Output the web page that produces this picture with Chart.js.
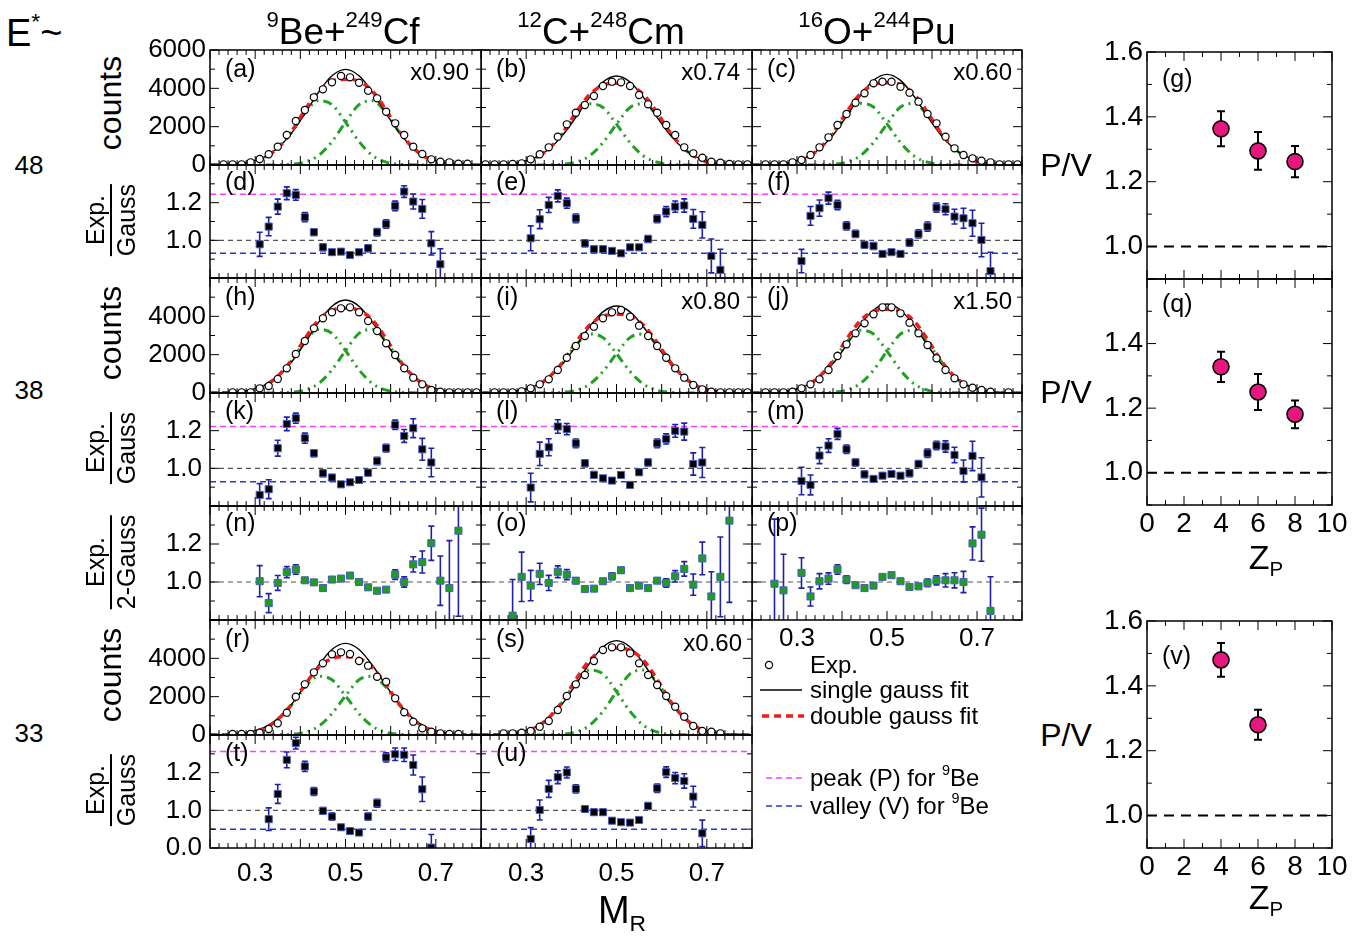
<!DOCTYPE html>
<html>
<head>
<meta charset="utf-8">
<script src="https://cdn.jsdelivr.net/npm/chart.js@4.4.1/dist/chart.umd.min.js"></script>
<style>
  body { margin: 0; width: 1370px; height: 938px; position: relative; overflow: hidden; background: #fff;
         font-family: "Liberation Sans", Arial, sans-serif; color: #000; }
  canvas { position: absolute; }
  .t { position: absolute; white-space: nowrap; line-height: 1; }
  .c { transform: translate(-50%, -50%); }
  .r { transform: translateY(-50%); }
  .rot { transform: translate(-50%, -50%) rotate(-90deg); }
  .sp { font-size: 0.6em; position: relative; top: -0.75em; }
  .sb { font-size: 0.6em; position: relative; top: 0.35em; }
  .frac { text-align: center; }
  .frac .den { border-top: 2px solid #000; padding-top: 2px; }
  .frac .num { padding-bottom: 2px; }
</style>
</head>
<body>
<script>
// mass ratio bins of the measured points, and sampling of the fitted curves
const gridM = [0.21, 0.23, 0.25, 0.27, 0.29, 0.31, 0.33, 0.35, 0.37, 0.39, 0.41, 0.43, 0.45, 0.47, 0.49,
               0.51, 0.53, 0.55, 0.57, 0.59, 0.61, 0.63, 0.65, 0.67, 0.69, 0.71, 0.73, 0.75, 0.77, 0.79];
const curveM = [0.20, 0.23, 0.26, 0.29, 0.32, 0.35, 0.38, 0.41, 0.44, 0.47, 0.50,
                0.53, 0.56, 0.59, 0.62, 0.65, 0.68, 0.71, 0.74, 0.77, 0.80];

// (a) 9Be+249Cf, E*~48
const expA = [null, 35, 35, 35, 139, 313, 557, 957, 1565, 2296, 2869, 3530, 3948, 4313, 4643, 4574, 4295, 3878, 3478, 2782, 2174, 1565, 957, 574, 296, 174, 139, 70, 70, null];
const singleA = [5, 20, 60, 170, 414, 883, 1647, 2675, 3782, 4656, 4990, 4656, 3782, 2675, 1647, 883, 414, 170, 60, 20, 5];
const doubleA = [0, 10, 30, 112, 372, 887, 1730, 2861, 3843, 4368, 4470, 4368, 3843, 2861, 1730, 887, 372, 112, 30, 10, 0];
const lowA = [0, 10, 30, 112, 372, 880, 1693, 2709, 3352, 3149, 2235, 1219, 491, 152, 37, 7, 0, 0, 0, 0, 0];
const highA = [0, 0, 0, 0, 0, 7, 37, 152, 491, 1219, 2235, 3149, 3352, 2709, 1693, 880, 372, 112, 30, 10, 0];
// (b) 12C+248Cm
const expB = [35, 35, 35, 52, 87, 296, 557, 922, 1478, 2122, 2730, 3130, 3600, 4122, 4348, 4313, 4122, 3652, 3165, 2730, 2087, 1565, 922, 609, 383, 174, 122, 52, 35, 35];
const singleB = [5, 19, 56, 158, 385, 822, 1532, 2489, 3519, 4332, 4643, 4332, 3519, 2489, 1532, 822, 385, 158, 56, 19, 5];
const doubleB = [0, 10, 29, 106, 355, 845, 1649, 2727, 3663, 4163, 4260, 4163, 3663, 2727, 1649, 845, 355, 106, 29, 10, 0];
const lowB = [0, 10, 29, 106, 355, 839, 1614, 2582, 3195, 3001, 2130, 1162, 468, 145, 35, 6, 0, 0, 0, 0, 0];
const highB = [0, 0, 0, 0, 0, 6, 35, 145, 468, 1162, 2130, 3001, 3195, 2582, 1614, 839, 355, 106, 29, 10, 0];
// (c) 16O+244Pu
const expC = [null, 35, 35, 35, 139, 261, 522, 922, 1443, 2087, 2661, 3252, 3739, 4261, 4348, 4348, 4087, 3774, 3304, 2661, 2174, 1478, 870, 522, 348, 226, 139, 35, 35, 35];
const singleC = [5, 19, 57, 161, 393, 837, 1561, 2535, 3585, 4413, 4730, 4413, 3585, 2535, 1561, 837, 393, 161, 57, 19, 5];
const doubleC = [0, 10, 29, 107, 358, 852, 1661, 2746, 3689, 4193, 4290, 4193, 3689, 2746, 1661, 852, 358, 107, 29, 10, 0];
const lowC = [0, 10, 29, 107, 358, 845, 1625, 2600, 3218, 3023, 2145, 1170, 471, 146, 36, 7, 0, 0, 0, 0, 0];
const highC = [0, 0, 0, 0, 0, 7, 36, 146, 471, 1170, 2145, 3023, 3218, 2600, 1625, 845, 358, 107, 29, 10, 0];
// (h) E*~38
const expH = [null, null, 35, 35, 35, 243, 365, 730, 1287, 2035, 2713, 3374, 3896, 4209, 4417, 4470, 4209, 3756, 3235, 2591, 1983, 1287, 800, 452, 157, 70, 35, 35, 35, 35];
const singleH = [5, 19, 58, 165, 403, 859, 1601, 2601, 3678, 4527, 4852, 4527, 3678, 2601, 1601, 859, 403, 165, 58, 19, 5];
const doubleH = [0, 10, 30, 110, 368, 877, 1710, 2827, 3798, 4316, 4417, 4316, 3798, 2827, 1710, 877, 368, 110, 30, 10, 0];
const lowH = [0, 10, 30, 110, 368, 870, 1673, 2677, 3313, 3112, 2208, 1205, 485, 151, 37, 7, 0, 0, 0, 0, 0];
const highH = [0, 0, 0, 0, 0, 7, 37, 151, 485, 1205, 2208, 3112, 3313, 2677, 1673, 870, 368, 110, 30, 10, 0];
// (i)
const expI = [null, 35, 35, 35, 87, 243, 452, 713, 1200, 1843, 2452, 2974, 3461, 3896, 4209, 4330, 3983, 3513, 2974, 2452, 1843, 1287, 800, 417, 191, 70, 35, 35, 35, 35];
const singleI = [5, 18, 54, 154, 377, 803, 1498, 2433, 3441, 4235, 4539, 4235, 3441, 2433, 1498, 803, 377, 154, 54, 18, 5];
const doubleI = [0, 9, 28, 103, 342, 815, 1589, 2627, 3529, 4011, 4104, 4011, 3529, 2627, 1589, 815, 342, 103, 28, 9, 0];
const lowI = [0, 9, 28, 103, 342, 808, 1555, 2487, 3078, 2891, 2052, 1119, 451, 140, 34, 6, 0, 0, 0, 0, 0];
const highI = [0, 0, 0, 0, 0, 6, 34, 140, 451, 1119, 2052, 2891, 3078, 2487, 1555, 808, 342, 103, 28, 9, 0];
// (j)
const expJ = [null, 35, 35, 35, 70, 243, 452, 713, 1200, 1930, 2539, 3113, 3635, 4104, 4470, 4470, 4156, 3670, 3113, 2504, 1809, 1200, 765, 452, 278, 157, 70, null, 35, null];
const singleJ = [5, 19, 56, 158, 385, 822, 1532, 2489, 3519, 4332, 4643, 4332, 3519, 2489, 1532, 822, 385, 158, 56, 19, 5];
const doubleJ = [0, 10, 30, 109, 364, 866, 1690, 2794, 3753, 4266, 4365, 4266, 3753, 2794, 1690, 866, 364, 109, 30, 10, 0];
const lowJ = [0, 10, 30, 109, 364, 860, 1654, 2646, 3274, 3076, 2183, 1191, 480, 149, 36, 7, 0, 0, 0, 0, 0];
const highJ = [0, 0, 0, 0, 0, 7, 36, 149, 480, 1191, 2183, 3076, 3274, 2646, 1654, 860, 364, 109, 30, 10, 0];
// (r) E*~33
const expR = [null, null, 52, 52, 52, 122, 313, 609, 1165, 2000, 2643, 3270, 3739, 4209, 4313, 4226, 3861, 3617, 3043, 2783, 1913, 1183, 696, 348, 174, 87, 52, 52, null, null];
const singleR = [5, 19, 57, 163, 397, 847, 1578, 2564, 3626, 4463, 4783, 4463, 3626, 2564, 1578, 847, 397, 163, 57, 19, 5];
const doubleR = [0, 9, 28, 102, 341, 811, 1582, 2616, 3514, 3994, 4087, 3994, 3514, 2616, 1582, 811, 341, 102, 28, 9, 0];
const lowR = [0, 9, 28, 102, 341, 805, 1548, 2477, 3065, 2879, 2043, 1115, 449, 139, 34, 6, 0, 0, 0, 0, 0];
const highR = [0, 0, 0, 0, 0, 6, 34, 139, 449, 1115, 2043, 2879, 3065, 2477, 1548, 805, 341, 102, 28, 9, 0];
// (s)
const expS = [null, null, 87, 87, 122, 209, 435, 730, 1304, 2035, 2643, 3130, 3861, 4435, 4574, 4574, 4261, 3739, 3130, 2609, 2035, 1478, 957, 470, 209, 174, 87, null, null, null];
const singleS = [5, 20, 59, 167, 409, 871, 1624, 2638, 3731, 4592, 4922, 4592, 3731, 2638, 1624, 871, 409, 167, 59, 20, 5];
const doubleS = [0, 10, 31, 113, 377, 898, 1751, 2895, 3889, 4420, 4522, 4420, 3889, 2895, 1751, 898, 377, 113, 31, 10, 0];
const lowS = [0, 10, 31, 113, 377, 891, 1713, 2741, 3392, 3186, 2261, 1233, 497, 154, 38, 7, 0, 0, 0, 0, 0];
const highS = [0, 0, 0, 0, 0, 7, 38, 154, 497, 1233, 2261, 3186, 3392, 2741, 1713, 891, 377, 113, 31, 10, 0];

// Exp./Gauss ratios (values + errors), aligned to slices of gridM
const ratD = [0.979, 1.073, 1.179, 1.250, 1.241, 1.123, 1.043, 0.963, 0.937, 0.940, 0.922, 0.937, 0.958, 1.043, 1.087, 1.183, 1.259, 1.206, 1.167, 0.984, 0.873];
const errD = [0.064, 0.049, 0.04, 0.034, 0.028, 0.024, 0.017, 0.018, 0.012, 0.012, 0.012, 0.012, 0.018, 0.02, 0.022, 0.025, 0.031, 0.04, 0.05, 0.062, 0.082];
const ratE = [1.011, 1.112, 1.188, 1.236, 1.197, 1.117, 0.984, 0.953, 0.953, 0.944, 0.931, 0.963, 0.963, 1.007, 1.114, 1.153, 1.179, 1.185, 1.114, 1.082, 0.917, 0.843];
const errE = [0.066, 0.05, 0.04, 0.032, 0.027, 0.023, 0.018, 0.015, 0.015, 0.012, 0.012, 0.012, 0.012, 0.018, 0.02, 0.027, 0.03, 0.035, 0.05, 0.07, 0.09, 0.11];
const ratF = [0.890, 1.130, 1.171, 1.224, 1.188, 1.077, 1.034, 0.976, 0.970, 0.928, 0.937, 0.928, 0.988, 1.034, 1.073, 1.174, 1.165, 1.126, 1.117, 1.091, 1.002, 0.837];
const errF = [0.062, 0.05, 0.043, 0.032, 0.025, 0.022, 0.019, 0.018, 0.018, 0.012, 0.012, 0.012, 0.019, 0.022, 0.024, 0.024, 0.029, 0.039, 0.053, 0.069, 0.089, 0.1];
const ratK = [0.859, 0.889, 1.107, 1.236, 1.266, 1.160, 1.080, 0.974, 0.951, 0.915, 0.926, 0.938, 0.977, 1.039, 1.107, 1.231, 1.172, 1.213, 1.101, 1.031];
const errK = [0.06, 0.05, 0.042, 0.036, 0.027, 0.027, 0.018, 0.018, 0.016, 0.01, 0.01, 0.01, 0.016, 0.02, 0.02, 0.025, 0.034, 0.05, 0.058, 0.076];
const ratL = [0.898, 1.077, 1.112, 1.222, 1.208, 1.133, 1.027, 0.965, 0.947, 0.935, 0.965, 0.912, 0.979, 1.031, 1.133, 1.156, 1.199, 1.195, 1.023, 1.031];
const errL = [0.076, 0.062, 0.045, 0.036, 0.03, 0.023, 0.018, 0.018, 0.012, 0.012, 0.012, 0.012, 0.016, 0.018, 0.023, 0.027, 0.034, 0.045, 0.059, 0.08];
const ratM = [0.933, 0.912, 1.068, 1.121, 1.183, 1.101, 1.031, 0.968, 0.944, 0.961, 0.970, 0.961, 0.974, 1.023, 1.080, 1.121, 1.116, 1.071, 0.986, 1.066, 0.952];
const errM = [0.073, 0.053, 0.043, 0.036, 0.029, 0.022, 0.018, 0.018, 0.012, 0.012, 0.012, 0.012, 0.018, 0.018, 0.022, 0.022, 0.03, 0.041, 0.058, 0.078, 0.104];
const ratT = [0.953, 1.087, 1.268, 1.357, 1.233, 1.100, 0.997, 0.967, 0.910, 0.890, 0.882, 0.967, 1.038, 1.281, 1.298, 1.295, 1.241, 1.112, 0.802];
const errT = [0.06, 0.05, 0.042, 0.031, 0.027, 0.021, 0.018, 0.018, 0.01, 0.01, 0.01, 0.018, 0.021, 0.024, 0.033, 0.036, 0.053, 0.065, 0.07];
const ratU = [0.848, 1.002, 1.114, 1.176, 1.201, 1.114, 1.007, 0.990, 0.990, 0.945, 0.937, 0.935, 0.949, 1.023, 1.117, 1.203, 1.171, 1.156, 1.073, 0.878];
const errU = [0.06, 0.053, 0.045, 0.034, 0.029, 0.022, 0.017, 0.015, 0.015, 0.01, 0.01, 0.01, 0.01, 0.018, 0.022, 0.028, 0.03, 0.038, 0.055, 0.07];
// Exp./2-Gauss ratios, E*~38
const ratN = [1.004, 0.889, 0.995, 1.052, 1.066, 1.009, 0.998, 0.968, 1.013, 1.018, 1.034, 1.000, 0.972, 0.954, 0.960, 1.039, 1.000, 1.093, 1.105, 1.204, 1.007, 0.968, 1.270];
const errN = [0.082, 0.05, 0.039, 0.029, 0.025, 0.012, 0.01, 0.01, 0.01, 0.01, 0.01, 0.01, 0.01, 0.01, 0.01, 0.025, 0.027, 0.04, 0.058, 0.09, 0.13, 0.25, 0.45];
const ratO = [0.823, 1.027, 0.981, 1.043, 0.995, 1.054, 1.039, 1.007, 0.963, 0.965, 1.004, 1.030, 1.062, 0.968, 0.981, 0.968, 1.007, 0.995, 1.030, 1.069, 0.986, 1.124, 0.924, 1.027, 1.323];
const errO = [0.19, 0.13, 0.08, 0.056, 0.04, 0.031, 0.027, 0.014, 0.01, 0.01, 0.01, 0.018, 0.014, 0.01, 0.01, 0.01, 0.012, 0.022, 0.03, 0.038, 0.056, 0.086, 0.13, 0.21, 0.43];
const ratP = [0.991, 0.956, null, 1.048, 0.924, 1.004, 1.018, 1.066, 1.013, 0.983, 0.968, 0.981, 1.027, 1.036, 1.004, 0.974, 0.977, 0.995, 1.009, 1.009, 1.009, 1.000, 1.203, 1.249, 0.848];
const errP = [0.34, 0.19, null, 0.08, 0.05, 0.04, 0.03, 0.025, 0.02, 0.01, 0.01, 0.01, 0.01, 0.01, 0.01, 0.01, 0.01, 0.02, 0.024, 0.035, 0.04, 0.056, 0.087, 0.14, 0.18];

// peak (P) and valley (V) levels for 9Be at E*~48, 38, 33
const peakLevel = [1.245, 1.222, 1.312];
const valleyLevel = [0.931, 0.929, 0.899];
const unity = 1.0;

// P/V versus projectile Z
const zP = [4, 6, 8];
const pv48 = [1.363, 1.295, 1.262];
const pvErr48 = [0.054, 0.058, 0.048];
const pv38 = [1.328, 1.250, 1.181];
const pvErr38 = [0.047, 0.056, 0.043];
const zP33 = [4, 6];
const pv33 = [1.48, 1.28];
const pvErr33 = [0.052, 0.046];

// tick labels
const massTicks = [0.3, 0.5, 0.7];
const countTicks = [0, 2000, 4000, 6000];
const countTicksLow = [0, 2000, 4000];
const ratioTicks = [1.0, 1.2];
const ratioTicksBottom = [0.8, 1.0, 1.2];
const pvTicks = [1.0, 1.2, 1.4, 1.6];
const pvTicksMid = [1.0, 1.2, 1.4];
const zTicks = [0, 2, 4, 6, 8, 10];

Chart.defaults.font.family = '"Liberation Sans", Arial, sans-serif';
Chart.defaults.color = '#000';

const pts = (xs, ys) => xs.map((x, i) => ({ x, y: ys[i] }));

// frame with inward ticks on all four sides, ROOT style
const frameTicks = {
  id: 'frameTicks',
  afterDraw(chart, args, o) {
    const { ctx, chartArea: a, scales } = chart;
    ctx.save();
    ctx.strokeStyle = '#000';
    ctx.lineWidth = 1;
    const marks = (scale, step, major, len, horiz) => {
      const k0 = Math.ceil(scale.min / step - 1e-6);
      for (let k = k0; k * step <= scale.max + 1e-9; k++) {
        const v = k * step;
        const big = Math.abs(v / major - Math.round(v / major)) < 1e-6;
        const L = big ? len : len * 0.55;
        const p = scale.getPixelForValue(v);
        ctx.beginPath();
        if (horiz) {
          ctx.moveTo(p, a.bottom); ctx.lineTo(p, a.bottom - L);
          ctx.moveTo(p, a.top); ctx.lineTo(p, a.top + L);
        } else {
          ctx.moveTo(a.left, p); ctx.lineTo(a.left + L, p);
          ctx.moveTo(a.right, p); ctx.lineTo(a.right - L, p);
        }
        ctx.stroke();
      }
    };
    marks(scales.x, o.xMinor, o.xMajor, 9, true);
    marks(scales.y, o.yMinor, o.yMajor, 9, false);
    ctx.lineWidth = 1.5;
    ctx.strokeRect(a.left, a.top, a.width, a.height);
    ctx.restore();
  }
};

// vertical error bars with caps, drawn under the markers
const errorBars = {
  id: 'errorBars',
  beforeDatasetDraw(chart, args) {
    const ds = chart.data.datasets[args.index];
    if (!ds.errors) return;
    const { ctx, chartArea: a } = chart;
    const ys = chart.scales.y;
    ctx.save();
    ctx.beginPath();
    ctx.rect(a.left, a.top, a.width, a.height);
    ctx.clip();
    ctx.strokeStyle = ds.errorColor;
    ctx.lineWidth = ds.errorWidth;
    args.meta.data.forEach((p, i) => {
      const v = ds.data[i].y, e = ds.errors[i];
      if (v == null || e == null) return;
      const y1 = ys.getPixelForValue(v + e), y2 = ys.getPixelForValue(v - e), c = ds.capHalf;
      ctx.beginPath();
      ctx.moveTo(p.x, y1); ctx.lineTo(p.x, y2);
      ctx.moveTo(p.x - c, y1); ctx.lineTo(p.x + c, y1);
      ctx.moveTo(p.x - c, y2); ctx.lineTo(p.x + c, y2);
      ctx.stroke();
    });
    ctx.restore();
  }
};

function axis(min, max, labels, fmt, fs, pad, fit) {
  const ax = {
    type: 'linear', min, max,
    grid: { display: false, drawTicks: false },
    border: { display: false },
    ticks: { display: labels.length > 0, autoSkip: false, maxRotation: 0, minRotation: 0,
             padding: pad, font: { size: fs }, color: '#000', callback: fmt },
    afterFit: fit
  };
  if (labels.length) ax.afterBuildTicks = s => { s.ticks = labels.map(v => ({ value: v })); };
  return ax;
}

function build(f, o) {
  const pl = o.pl || 0, pt = o.pt || 0, pr = o.pr || 0, pb = o.pb || 0;
  const cv = document.createElement('canvas');
  cv.width = f.w + pl + pr;
  cv.height = f.h + pt + pb;
  cv.style.left = (f.l - pl) + 'px';
  cv.style.top = (f.t - pt) + 'px';
  document.body.appendChild(cv);
  return new Chart(cv, {
    type: 'line',
    data: { datasets: o.datasets },
    options: {
      responsive: false, animation: false, devicePixelRatio: 1, events: [],
      layout: { autoPadding: false, padding: { top: pt, right: pr, left: 0, bottom: 0 } },
      plugins: { legend: { display: false }, tooltip: { enabled: false }, frameTicks: o.ticks },
      scales: {
        x: axis(o.xMin, o.xMax, o.xLab, o.xFmt, o.fs, o.xPad, s => { s.height = pb; }),
        y: axis(o.yMin, o.yMax, o.yLab, o.yFmt, o.fs, o.yPad, s => { s.width = pl; })
      }
    },
    plugins: [frameTicks, errorBars]
  });
}

const RED = '#ee1c1c', GREEN = '#22a022', MAGENTA = '#ff3cff', BLUE = '#2b34c8';
const colL = [210, 481, 752], colW = [271, 271, 270];
const massAxis = { xMinor: 0.02, xMajor: 0.1 };

function countsPanel(col, t, h, yLab, exp, single, dbl, low, high) {
  const green = data => ({ data: pts(curveM, data), borderColor: GREEN, borderWidth: 3,
    borderDash: [9, 5, 2, 5, 2, 5], pointRadius: 0, cubicInterpolationMode: 'monotone' });
  build({ l: colL[col], t, w: colW[col], h }, {
    pl: col === 0 ? 70 : 0, pt: 26, pr: 2, pb: 26, fs: 26, xPad: 8, yPad: 4,
    xMin: 0.2, xMax: 0.8, yMin: 0, yMax: 6000, xLab: [], yLab, yFmt: v => String(v),
    ticks: { ...massAxis, yMinor: 1000, yMajor: 2000 },
    datasets: [
      { data: pts(gridM, exp), showLine: false, pointRadius: 3.6, pointBorderWidth: 1.2,
        pointBorderColor: '#000', pointBackgroundColor: '#fff' },
      { data: pts(curveM, dbl), borderColor: RED, borderWidth: 3.5, borderDash: [7, 5],
        pointRadius: 0, cubicInterpolationMode: 'monotone' },
      { data: pts(curveM, single), borderColor: '#000', borderWidth: 1.4,
        pointRadius: 0, cubicInterpolationMode: 'monotone' },
      green(low), green(high)
    ]
  });
}

function ratioPanel(col, t, h, yLab, xLab, xPad, xs, ys, errs, fill, levels) {
  const ref = (y, color, dash, w) => ({ data: [{ x: 0.2, y }, { x: 0.8, y }], borderColor: color,
    borderWidth: w, borderDash: dash, pointRadius: 0 });
  const sets = [
    { data: pts(xs, ys), showLine: false, pointStyle: 'rect', pointRadius: 5, pointBackgroundColor: fill,
      pointBorderColor: '#4a5cc0', pointBorderWidth: 1, errors: errs, errorColor: '#1f22a6',
      errorWidth: 1.6, capHalf: 3 },
    ref(unity, '#555', [5, 4], 1.2)
  ];
  if (levels) {
    sets.push(ref(levels[0], MAGENTA, [6, 4], 1.5));
    sets.push(ref(levels[1], BLUE, [6, 4], 1.5));
  }
  build({ l: colL[col], t, w: colW[col], h }, {
    pl: col === 0 ? 70 : 0, pt: 26, pr: 2, pb: xLab.length ? 42 : 26, fs: 26, xPad, yPad: 8,
    xMin: 0.2, xMax: 0.8, yMin: 0.8, yMax: 1.4, xLab, yLab,
    xFmt: v => v.toFixed(1), yFmt: v => (v < 0.9 ? '0.0' : v.toFixed(1)),
    ticks: { ...massAxis, yMinor: 0.1, yMajor: 0.2 },
    datasets: sets
  });
}

function pvPanel(t, h, yLab, xLab, zs, vals, errs) {
  build({ l: 1147, t, w: 185, h }, {
    pl: 50, pt: 26, pr: 26, pb: xLab.length ? 36 : 26, fs: 28, xPad: 2, yPad: 4,
    xMin: 0, xMax: 10, yMin: 0.9, yMax: 1.6, xLab, yLab,
    xFmt: v => String(v), yFmt: v => v.toFixed(1),
    ticks: { xMinor: 1, xMajor: 2, yMinor: 0.1, yMajor: 0.2 },
    datasets: [
      { data: pts(zs, vals), showLine: false, pointRadius: 8, pointBackgroundColor: '#e8177f',
        pointBorderColor: '#000', pointBorderWidth: 1.6, errors: errs, errorColor: '#000',
        errorWidth: 2, capHalf: 4 },
      { data: [{ x: 0, y: unity }, { x: 10, y: unity }], borderColor: '#000', borderWidth: 2,
        borderDash: [10, 7], pointRadius: 0 }
    ]
  });
}

// E*~48
countsPanel(0, 50, 115, countTicks, expA, singleA, doubleA, lowA, highA);
countsPanel(1, 50, 115, [], expB, singleB, doubleB, lowB, highB);
countsPanel(2, 50, 115, [], expC, singleC, doubleC, lowC, highC);
ratioPanel(0, 165, 113, ratioTicks, [], 10, gridM.slice(5, 26), ratD, errD, '#000', [peakLevel[0], valleyLevel[0]]);
ratioPanel(1, 165, 113, [], [], 10, gridM.slice(5, 27), ratE, errE, '#000', [peakLevel[0], valleyLevel[0]]);
ratioPanel(2, 165, 113, [], [], 10, gridM.slice(5, 27), ratF, errF, '#000', [peakLevel[0], valleyLevel[0]]);
// E*~38
countsPanel(0, 278, 115, countTicksLow, expH, singleH, doubleH, lowH, highH);
countsPanel(1, 278, 115, [], expI, singleI, doubleI, lowI, highI);
countsPanel(2, 278, 115, [], expJ, singleJ, doubleJ, lowJ, highJ);
ratioPanel(0, 393, 113, ratioTicks, [], 10, gridM.slice(5, 25), ratK, errK, '#000', [peakLevel[1], valleyLevel[1]]);
ratioPanel(1, 393, 113, [], [], 10, gridM.slice(5, 25), ratL, errL, '#000', [peakLevel[1], valleyLevel[1]]);
ratioPanel(2, 393, 113, [], [], 10, gridM.slice(5, 26), ratM, errM, '#000', [peakLevel[1], valleyLevel[1]]);
ratioPanel(0, 506, 114, ratioTicks, [], 10, gridM.slice(5, 28), ratN, errN, '#1e9e1e', null);
ratioPanel(1, 506, 114, [], [], 10, gridM.slice(3, 28), ratO, errO, '#1e9e1e', null);
ratioPanel(2, 506, 114, [], massTicks, 3, gridM.slice(2, 27), ratP, errP, '#1e9e1e', null);
// E*~33
countsPanel(0, 620, 115, countTicksLow, expR, singleR, doubleR, lowR, highR);
countsPanel(1, 620, 115, [], expS, singleS, doubleS, lowS, highS);
ratioPanel(0, 735, 113, ratioTicksBottom, massTicks, 10, gridM.slice(6, 25), ratT, errT, '#000', [peakLevel[2], valleyLevel[2]]);
ratioPanel(1, 735, 113, [], massTicks, 10, gridM.slice(5, 25), ratU, errU, '#000', [peakLevel[2], valleyLevel[2]]);
// P/V
pvPanel(52, 227, pvTicks, [], zP, pv48, pvErr48);
pvPanel(279, 226, pvTicksMid, zTicks, zP, pv38, pvErr38);
pvPanel(621, 227, pvTicks, zTicks, zP33, pv33, pvErr33);
</script>

<!-- titles and axis captions -->
<div class="t" style="left:6px;top:14px;font-size:38px">E<span class="sp">*</span>~</div>
<div class="t c" style="left:343px;top:31px;font-size:37px"><span class="sp">9</span>Be+<span class="sp">249</span>Cf</div>
<div class="t c" style="left:601px;top:31px;font-size:37px"><span class="sp">12</span>C+<span class="sp">248</span>Cm</div>
<div class="t c" style="left:877px;top:31px;font-size:37px"><span class="sp">16</span>O+<span class="sp">244</span>Pu</div>

<div class="t c" style="left:29px;top:165px;font-size:26px">48</div>
<div class="t c" style="left:29px;top:390px;font-size:26px">38</div>
<div class="t c" style="left:29px;top:733px;font-size:26px">33</div>

<div class="t rot" style="left:110px;top:103px;font-size:32px">counts</div>
<div class="t rot" style="left:110px;top:333px;font-size:32px">counts</div>
<div class="t rot" style="left:110px;top:675px;font-size:32px">counts</div>
<div class="t rot" style="left:111px;top:220px;font-size:25px"><div class="frac"><div class="num">Exp.</div><div class="den">Gauss</div></div></div>
<div class="t rot" style="left:111px;top:448px;font-size:25px"><div class="frac"><div class="num">Exp.</div><div class="den">Gauss</div></div></div>
<div class="t rot" style="left:111px;top:562px;font-size:25px"><div class="frac"><div class="num">Exp.</div><div class="den">2-Gauss</div></div></div>
<div class="t rot" style="left:111px;top:790px;font-size:25px"><div class="frac"><div class="num">Exp.</div><div class="den">Gauss</div></div></div>

<div class="t c" style="left:622px;top:910px;font-size:38px">M<span class="sb">R</span></div>
<div class="t c" style="left:1066px;top:165px;font-size:32px">P/V</div>
<div class="t c" style="left:1066px;top:392px;font-size:32px">P/V</div>
<div class="t c" style="left:1066px;top:735px;font-size:32px">P/V</div>
<div class="t c" style="left:1266px;top:557px;font-size:34px">Z<span class="sb">P</span></div>
<div class="t c" style="left:1266px;top:897px;font-size:34px">Z<span class="sb">P</span></div>

<!-- panel tags -->
<div class="t r" style="left:225px;top:68px;font-size:25px">(a)</div>
<div class="t r" style="left:496px;top:68px;font-size:25px">(b)</div>
<div class="t r" style="left:767px;top:68px;font-size:25px">(c)</div>
<div class="t r" style="left:225px;top:181px;font-size:25px">(d)</div>
<div class="t r" style="left:496px;top:181px;font-size:25px">(e)</div>
<div class="t r" style="left:767px;top:181px;font-size:25px">(f)</div>
<div class="t r" style="left:225px;top:296px;font-size:25px">(h)</div>
<div class="t r" style="left:496px;top:296px;font-size:25px">(i)</div>
<div class="t r" style="left:767px;top:296px;font-size:25px">(j)</div>
<div class="t r" style="left:225px;top:410px;font-size:25px">(k)</div>
<div class="t r" style="left:496px;top:410px;font-size:25px">(l)</div>
<div class="t r" style="left:767px;top:410px;font-size:25px">(m)</div>
<div class="t r" style="left:225px;top:522px;font-size:25px">(n)</div>
<div class="t r" style="left:496px;top:522px;font-size:25px">(o)</div>
<div class="t r" style="left:767px;top:522px;font-size:25px">(p)</div>
<div class="t r" style="left:225px;top:638px;font-size:25px">(r)</div>
<div class="t r" style="left:496px;top:638px;font-size:25px">(s)</div>
<div class="t r" style="left:225px;top:752px;font-size:25px">(t)</div>
<div class="t r" style="left:496px;top:752px;font-size:25px">(u)</div>
<div class="t r" style="left:1162px;top:78px;font-size:25px">(g)</div>
<div class="t r" style="left:1162px;top:303px;font-size:25px">(q)</div>
<div class="t r" style="left:1162px;top:655px;font-size:25px">(v)</div>

<div class="t r" style="right:901px;top:72px;font-size:24px">x0.90</div>
<div class="t r" style="right:630px;top:72px;font-size:24px">x0.74</div>
<div class="t r" style="right:358px;top:72px;font-size:24px">x0.60</div>
<div class="t r" style="right:630px;top:301px;font-size:24px">x0.80</div>
<div class="t r" style="right:358px;top:301px;font-size:24px">x1.50</div>
<div class="t r" style="right:628px;top:643px;font-size:24px">x0.60</div>

<!-- legend -->
<svg style="position:absolute;left:752px;top:650px" width="58" height="170">
  <circle cx="17" cy="15" r="3.6" fill="#fff" stroke="#000" stroke-width="1.2"/>
  <line x1="8" y1="40" x2="50" y2="40" stroke="#000" stroke-width="1.5"/>
  <line x1="10" y1="66" x2="52" y2="66" stroke="#ee1c1c" stroke-width="3.5" stroke-dasharray="7 5"/>
  <line x1="14" y1="128" x2="54" y2="128" stroke="#ff3cff" stroke-width="1.5" stroke-dasharray="6 4"/>
  <line x1="14" y1="156" x2="54" y2="156" stroke="#2b34c8" stroke-width="1.5" stroke-dasharray="6 4"/>
</svg>
<div class="t r" style="left:810px;top:665px;font-size:24px">Exp.</div>
<div class="t r" style="left:810px;top:690px;font-size:24px">single gauss fit</div>
<div class="t r" style="left:810px;top:716px;font-size:24px">double gauss fit</div>
<div class="t r" style="left:810px;top:778px;font-size:24px">peak (P) for <span class="sp">9</span>Be</div>
<div class="t r" style="left:810px;top:806px;font-size:24px">valley (V) for <span class="sp">9</span>Be</div>
</body>
</html>
